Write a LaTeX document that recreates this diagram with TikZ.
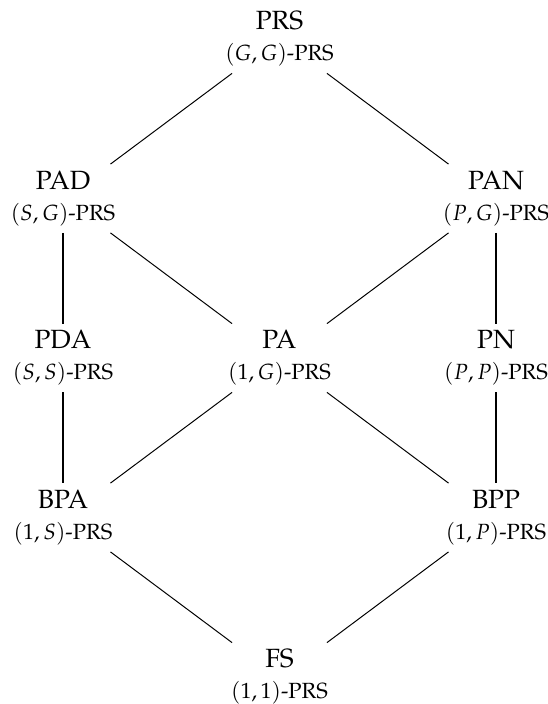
\documentclass[tikz,border=0pt]{standalone}
\usepackage[T1]{fontenc}
\usepackage{mathpazo}
\begin{document}
\begin{tikzpicture}[x=0.455pt,y=-0.455pt,
  vtx/.style={rectangle, align=center, inner xsep=-20pt, inner ysep=-10pt,
    minimum width=42.8pt, minimum height=30.9pt},
  diag/.style={line width=0.45pt},
  vert/.style={line width=1.2pt}]
\useasboundingbox (0,0) rectangle (547,704);
\node[vtx] (prs) at (279.5,39)  {{\large PRS}\\[2pt] $(G,G)$-PRS};
\node[vtx] (pad) at (63,198.5)  {{\large PAD}\\[2pt] $(S,G)$-PRS};
\node[vtx] (pan) at (496,198.5) {{\large PAN}\\[2pt] $(P,G)$-PRS};
\node[vtx] (pda) at (63,358)    {{\large PDA}\\[2pt] $(S,S)$-PRS};
\node[vtx] (pa)  at (279.5,358) {{\large PA}\\[2pt] $(1,G)$-PRS};
\node[vtx] (pn)  at (496,358)   {{\large PN}\\[2pt] $(P,P)$-PRS};
\node[vtx] (bpa) at (63,517.5)  {{\large BPA}\\[2pt] $(1,S)$-PRS};
\node[vtx] (bpp) at (496,517.5) {{\large BPP}\\[2pt] $(1,P)$-PRS};
\node[vtx] (fs)  at (279.5,677) {{\large FS}\\[2pt] $(1,1)$-PRS};
\draw[diag] (prs.south west) -- (pad.north east);
\draw[diag] (prs.south east) -- (pan.north west);
\draw[vert] (pad.south) -- (pda.north);
\draw[diag] (pad.south east) -- (pa.north west);
\draw[diag] (pan.south west) -- (pa.north east);
\draw[vert] (pan.south) -- (pn.north);
\draw[vert] (pda.south) -- (bpa.north);
\draw[diag] (pa.south west) -- (bpa.north east);
\draw[diag] (pa.south east) -- (bpp.north west);
\draw[vert] (pn.south) -- (bpp.north);
\draw[diag] (bpa.south east) -- (fs.north west);
\draw[diag] (bpp.south west) -- (fs.north east);
\end{tikzpicture}
\end{document}
